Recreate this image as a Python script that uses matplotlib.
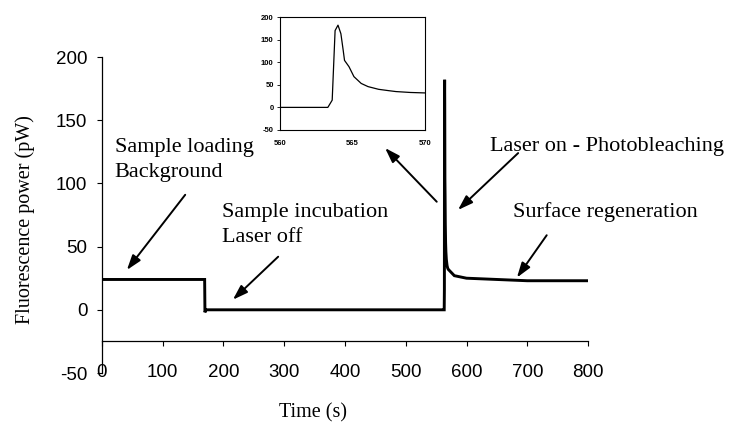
import matplotlib

matplotlib.use("Agg")
from matplotlib import pyplot as plt

plt.rcParams["axes.unicode_minus"] = False

# Fluorescence trace
time_s = [0, 169, 169.5, 171, 300, 400, 500, 560, 563.3, 563.6, 563.8, 564.0, 564.2,
          564.36, 564.45, 564.76, 565.1, 565.6, 566.07, 566.8, 567.5, 568, 569, 570,
          580, 600, 650, 700, 800]
power_pw = [24, 24, -2, 0, 0, 0, 0, 0, 0, 16, 170, 182, 163,
            126, 104, 90, 68, 53, 46, 40, 37, 35, 33, 32,
            27, 25, 24, 23, 23]

y_ticks = [-50, 0, 50, 100, 150, 200]
x_ticks = [0, 100, 200, 300, 400, 500, 600, 700, 800]
inset_x_ticks = [560, 565, 570]

# (text lines, left x, first baseline y, line step) in data units
labels = [
    (["Sample loading", "Background"], 21, 125, 19.8),
    (["Sample incubation", "Laser off"], 197, 73.5, 19.8),
    (["Laser on - Photobleaching"], 639, 126, 0),
    (["Surface regeneration"], 676, 73.5, 0),
]
# (tail, head) in data units of the main axes
arrows = [
    ((137, 91), (41, 31.5)),
    ((290, 42), (215.5, 8)),
    ((551, 85.5), (466, 128)),
    ((685, 124), (586, 79)),
    ((732, 59), (683, 25.5)),
]

SANS = "Liberation Sans"
SERIF = "Liberation Serif"

fig = plt.figure(figsize=(7.32, 4.23), dpi=100)
ax = fig.add_axes([0.1393, 0.1182, 0.664, 0.7470])
ax.plot(time_s, power_pw, color="black", lw=2.1, solid_joinstyle="miter")
ax.set_xlim(0, 800)
ax.set_ylim(-50, 200)
ax.set_xticks(x_ticks)
ax.set_yticks(y_ticks)
for sp in ("top", "right"):
    ax.spines[sp].set_visible(False)
ax.spines["bottom"].set_position(("data", -25))
for sp in ("left", "bottom"):
    ax.spines[sp].set_linewidth(0.9)
ax.tick_params(axis="y", direction="out", length=3.5, width=0.8, pad=7)
ax.tick_params(axis="x", direction="out", length=3.5, width=0.8, pad=13)
for lbl in ax.get_xticklabels() + ax.get_yticklabels():
    lbl.set_fontfamily(SANS)
    lbl.set_fontsize(13.5)

for lines, x0, y0, step in labels:
    for i, line in enumerate(lines):
        ax.text(x0, y0 - i * step, line, family=SERIF, fontsize=16,
                ha="left", va="baseline")

for tail, head in arrows:
    ax.annotate("", xy=head, xytext=tail, annotation_clip=False,
                arrowprops=dict(arrowstyle="-|>,head_length=0.9,head_width=0.3",
                                color="black", lw=1.4, shrinkA=0, shrinkB=0))

fig.text(0.4276, 0.014, "Time (s)", family=SERIF, fontsize=14.5,
         ha="center", va="baseline")
fig.text(0.034, 0.48, "Fluorescence power (pW)", family=SERIF, fontsize=14.5,
         rotation=90, ha="center", va="center")

# Inset: zoom on the photobleaching peak
ins = fig.add_axes([0.3825, 0.6927, 0.1981, 0.2671])
ins.plot(time_s, power_pw, color="black", lw=0.9)
ins.set_xlim(560, 570)
ins.set_ylim(-50, 200)
ins.set_xticks(inset_x_ticks)
ins.set_yticks(y_ticks)
for sp in ins.spines.values():
    sp.set_linewidth(0.8)
ins.tick_params(axis="y", direction="out", length=2, width=0.6, pad=2.5)
ins.tick_params(axis="x", length=0, pad=7)
for lbl in ins.get_xticklabels() + ins.get_yticklabels():
    lbl.set_fontfamily(SANS)
    lbl.set_fontsize(5.5)
    lbl.set_fontweight("bold")

fig.savefig("out.png", dpi=100)
